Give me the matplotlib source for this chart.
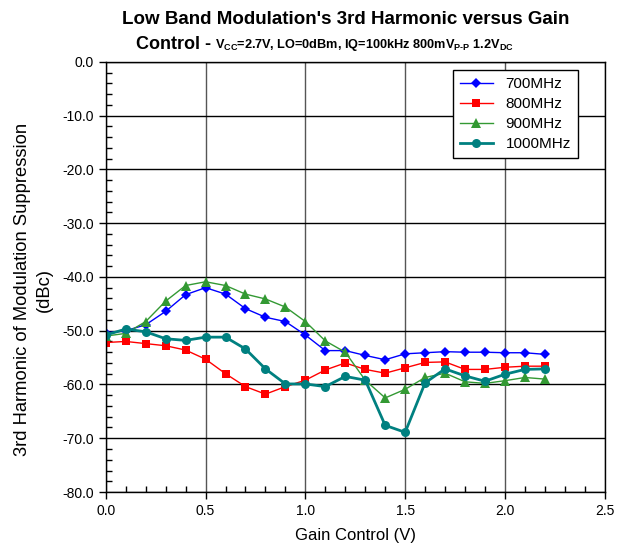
import numpy as np
import matplotlib
matplotlib.use("Agg")
import matplotlib.pyplot as plt
from matplotlib.ticker import MultipleLocator, FormatStrFormatter

plt.rcParams['font.family'] = ['Liberation Sans', 'DejaVu Sans']
plt.rcParams['mathtext.fontset'] = 'custom'
plt.rcParams['mathtext.rm'] = 'Liberation Sans:bold'
plt.rcParams['mathtext.bf'] = 'Liberation Sans:bold'

# gain control voltage (V)
gain_v = [0.0, 0.1, 0.2, 0.3, 0.4, 0.5, 0.6, 0.7, 0.8, 0.9, 1.0, 1.1,
          1.2, 1.3, 1.4, 1.5, 1.6, 1.7, 1.8, 1.9, 2.0, 2.1, 2.2]

# 3rd harmonic suppression (dBc)
h3_700 = [-50.4, -50.0, -48.9, -46.4, -43.3, -42.0, -43.2, -45.9, -47.5, -48.3, -50.8, -53.7,
          -53.7, -54.6, -55.4, -54.3, -54.1, -53.9, -54.0, -54.0, -54.1, -54.1, -54.4]
h3_800 = [-52.2, -52.0, -52.4, -52.8, -53.6, -55.3, -58.0, -60.4, -61.8, -60.4, -59.2, -57.3,
          -56.0, -57.2, -57.9, -56.9, -55.9, -55.8, -57.2, -57.2, -56.8, -56.6, -56.6]
h3_900 = [-51.0, -50.5, -48.3, -44.5, -41.6, -40.9, -41.6, -43.2, -44.1, -45.6, -48.3, -51.9,
          -54.0, -59.2, -62.5, -60.9, -58.7, -57.9, -59.5, -59.8, -59.3, -58.7, -59.0]
h3_1000 = [-50.8, -49.7, -50.2, -51.5, -51.8, -51.2, -51.2, -53.4, -57.1, -59.9, -59.9, -60.4,
           -58.5, -59.2, -67.6, -68.9, -59.7, -57.1, -58.4, -59.4, -58.1, -57.2, -57.1]

series = [
    ("700MHz", h3_700, "#0000FF", "D", 5, 1.0),
    ("800MHz", h3_800, "#FF0000", "s", 6, 1.0),
    ("900MHz", h3_900, "#339933", "^", 6.5, 1.0),
    ("1000MHz", h3_1000, "#008080", "o", 6.5, 2.0),
]

fig = plt.figure(figsize=(6.26, 5.47), dpi=100)
ax = fig.add_axes([0.169, 0.1005, 0.797, 0.7865])

for name, vals, col, mk, ms, lw in series:
    ax.plot(gain_v, vals, color=col, marker=mk, markersize=ms, linewidth=lw,
            markeredgewidth=0, label=name)

ax.set_xlim(0, 2.5)
ax.set_ylim(-80, 0)
ax.xaxis.set_major_locator(MultipleLocator(0.5))
ax.xaxis.set_minor_locator(MultipleLocator(0.1))
ax.yaxis.set_major_locator(MultipleLocator(10))
ax.yaxis.set_minor_locator(MultipleLocator(2))
ax.xaxis.set_major_formatter(FormatStrFormatter('%.1f'))
ax.yaxis.set_major_formatter(FormatStrFormatter('%.1f'))
ax.tick_params(which='major', direction='out', length=5, width=1, labelsize=10)
ax.tick_params(which='minor', direction='in', length=4, width=1)
ax.grid(True, which='major', axis='y', color='black', linewidth=1)
ax.grid(True, which='major', axis='x', color='#555555', linewidth=1)
for s in ax.spines.values():
    s.set_color('black')
    s.set_linewidth(1)

ax.set_xlabel("Gain Control (V)", fontsize=12, labelpad=7)
ax.set_ylabel("3rd Harmonic of Modulation Suppression\n(dBc)", fontsize=13.2,
              linespacing=1.4)
ax.yaxis.set_label_coords(-0.106, 0.47)

leg = ax.legend(loc='upper right', bbox_to_anchor=(0.946, 0.981), fontsize=11,
                frameon=True, fancybox=False, edgecolor='black', framealpha=1,
                handlelength=2.2, borderpad=0.45, labelspacing=0.4, borderaxespad=0)
leg.get_frame().set_linewidth(1)

fig.text(0.553, 0.965, "Low Band Modulation's 3rd Harmonic versus Gain",
         ha='center', va='center', fontsize=13.5, fontweight='bold')
fig.text(0.337, 0.918, "Control -", ha='right', va='center',
         fontsize=13, fontweight='bold')
fig.text(0.344, 0.918,
         r"V$_{\mathrm{CC}}$=2.7V, LO=0dBm, IQ=100kHz 800mV$_{\mathrm{P\text{-}P}}$ 1.2V$_{\mathrm{DC}}$",
         ha='left', va='center', fontsize=9.2, fontweight='bold')

fig.savefig("out.png", dpi=100)
